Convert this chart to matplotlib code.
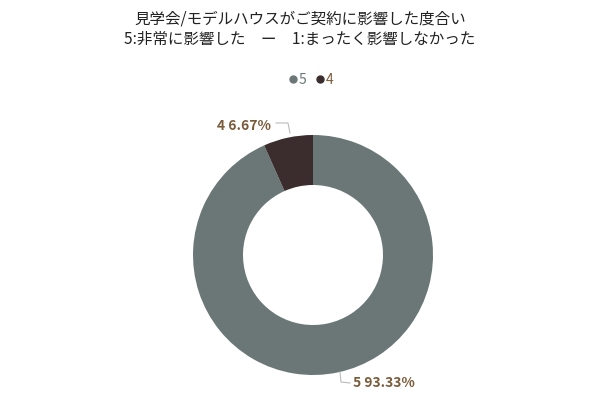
import matplotlib
matplotlib.use("Agg")
import matplotlib.pyplot as plt
from matplotlib.lines import Line2D

plt.rcParams['font.family'] = ['Noto Sans CJK JP', 'DejaVu Sans']

# data
labels = ["5", "4"]
values = [93.33, 6.67]
colors = ["#6b7777", "#3b2d2d"]

title = "見学会/モデルハウスがご契約に影響した度合い\n5:非常に影響した　ー　1:まったく影響しなかった"

fig = plt.figure(figsize=(6, 4), dpi=100)
ax = fig.add_axes([0, 0, 1, 1])

cx, cy, r = 313, 145, 120
ax.pie(values, colors=colors, startangle=90, counterclock=False,
       center=(cx, cy), radius=r, frame=True,
       wedgeprops=dict(width=50, edgecolor="none"))
ax.set_xlim(0, 600)
ax.set_ylim(0, 400)
ax.set_aspect("equal")
ax.axis("off")

# title
fig.text(0.5, 0.975, title, ha="center", va="top", fontsize=11.2,
         color="#222222", linespacing=1.3)

# legend
handles = [Line2D([], [], marker="o", linestyle="", markersize=5,
                  markerfacecolor=c, markeredgecolor=c) for c in colors]
leg = fig.legend(handles, labels, loc="center", bbox_to_anchor=(0.515, 0.8),
                 ncol=2, frameon=False, handletextpad=-0.2, columnspacing=0.4,
                 handlelength=1.2, fontsize=10)
for t, c in zip(leg.get_texts(), ["#6b7777", "#7a5c3a"]):
    t.set_color(c)

# data labels with leader lines
lab_col = "#7a5c3a"
line_col = "#bbbbbb"
ax.text(271, 274, f"{labels[1]} {values[1]:.2f}%", ha="right", va="center",
        fontsize=10, fontweight="bold", color=lab_col)
ax.plot([276, 288, 290], [277, 277, 267], color=line_col, lw=0.8)
ax.text(353, 17, f"{labels[0]} {values[0]:.2f}%", ha="left", va="center",
        fontsize=10, fontweight="bold", color=lab_col)
ax.plot([340, 341, 350], [28, 18, 17], color=line_col, lw=0.8)

fig.savefig("out.png", dpi=100, facecolor="white")
